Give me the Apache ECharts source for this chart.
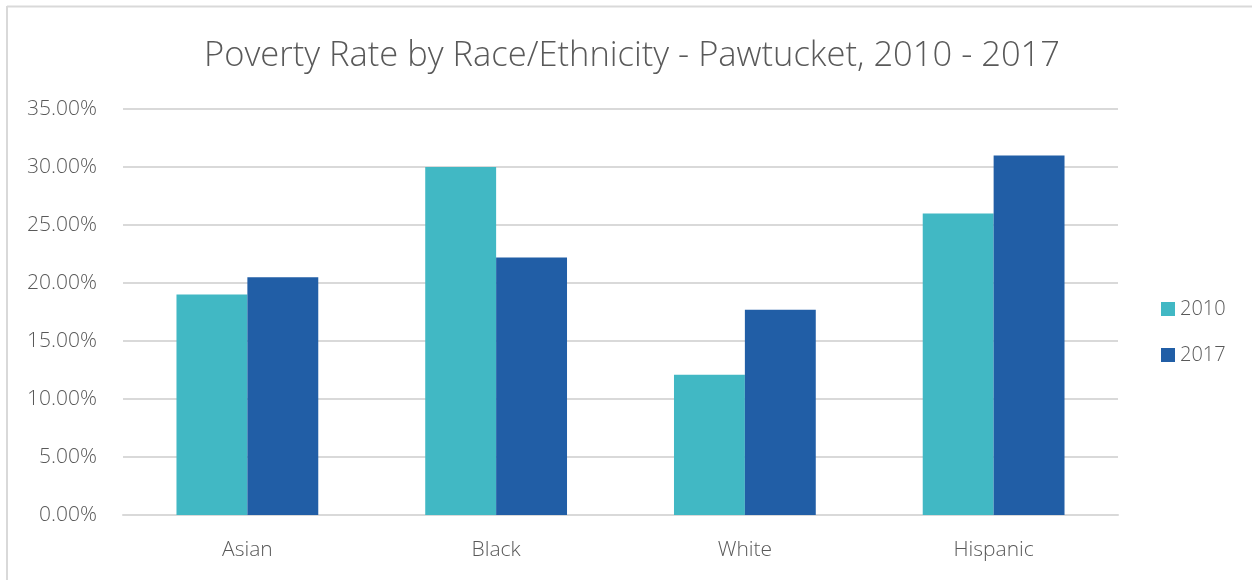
<!DOCTYPE html>
<html>
<head>
<meta charset="utf-8">
<script src="https://cdn.jsdelivr.net/npm/echarts@6/dist/echarts.min.js"></script>
<style>
html,body{margin:0;padding:0;background:#fff;}
#chart{width:1253px;height:580px;}
</style>
</head>
<body>
<div id="chart"></div>
<script>
const categories = ["Asian", "Black", "White", "Hispanic"];
const series2010 = [19.0, 30.0, 12.1, 26.0];
const series2017 = [20.5, 22.2, 17.7, 31.0];
const seriesNames = ["2010", "2017"];
const titleText = "Poverty Rate by Race/Ethnicity - Pawtucket, 2010 - 2017";

const FONT = "'Open Sans', 'Noto Sans', sans-serif";
const chart = echarts.init(document.getElementById('chart'), null, {renderer: 'canvas'});
chart.setOption({
  backgroundColor: '#fff',
  animation: false,
  graphic: [
    {type: 'line', shape: {x1: 7, y1: 6.5, x2: 1252, y2: 6.5}, style: {stroke: '#d9d9d9', lineWidth: 2}},
    {type: 'line', shape: {x1: 7, y1: 6, x2: 7, y2: 580}, style: {stroke: '#d9d9d9', lineWidth: 2}}
  ],
  title: {
    text: titleText,
    left: 627, top: 34, textAlign: 'center',
    textStyle: {fontFamily: FONT, fontWeight: 300, fontSize: 34.5, color: '#595959'}
  },
  legend: {
    orient: 'vertical',
    left: 1156, top: 294,
    itemWidth: 14, itemHeight: 14, itemGap: 26,
    icon: 'rect',
    textStyle: {fontFamily: FONT, fontWeight: 300, fontSize: 20, color: '#595959'},
    data: seriesNames
  },
  grid: {left: 123, right: 135, top: 109, bottom: 65, containLabel: false},
  xAxis: {
    type: 'category',
    data: categories,
    axisLine: {lineStyle: {color: '#d9d9d9', width: 2}},
    axisTick: {show: false},
    axisLabel: {fontFamily: FONT, fontWeight: 300, fontSize: 21, color: '#595959', margin: 25}
  },
  yAxis: {
    type: 'value',
    min: 0, max: 35, interval: 5,
    axisLine: {show: false},
    axisTick: {show: false},
    splitLine: {lineStyle: {color: '#d9d9d9', width: 2}},
    axisLabel: {
      fontFamily: FONT, fontWeight: 300, fontSize: 21, color: '#595959', margin: 26,
      formatter: v => v.toFixed(2) + '%'
    }
  },
  series: [
    {name: seriesNames[0], type: 'bar', data: series2010, barGap: '0%', barCategoryGap: '43%',
     itemStyle: {color: '#41B8C4'}},
    {name: seriesNames[1], type: 'bar', data: series2017, barGap: '0%', barCategoryGap: '43%',
     itemStyle: {color: '#215EA6'}}
  ]
});
</script>
</body>
</html>
